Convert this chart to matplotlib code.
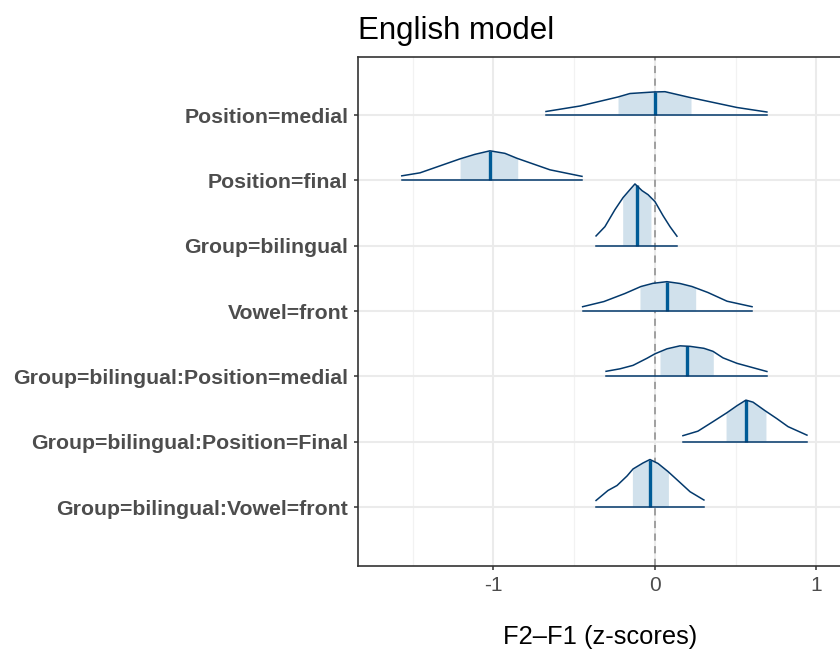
import numpy as np
import matplotlib.pyplot as plt

# parameter names, top to bottom
params = ['Position=medial', 'Position=final', 'Group=bilingual', 'Vowel=front',
          'Group=bilingual:Position=medial', 'Group=bilingual:Position=Final',
          'Group=bilingual:Vowel=front']

# density outlines: x (z-scores) and scaled height (row units)
dens_x = [
    [-0.675, -0.464, -0.229, -0.155, -0.012, 0.062, 0.111, 0.217, 0.508, 0.693],
    [-1.568, -1.455, -1.207, -1.115, -1.022, -0.929, -0.854, -0.650, -0.452],
    [-0.365, -0.310, -0.248, -0.198, -0.155, -0.124, -0.080, -0.043, 0.000, 0.050, 0.093, 0.136],
    [-0.448, -0.316, -0.186, -0.087, -0.012, 0.074, 0.155, 0.229, 0.328, 0.446, 0.601],
    [-0.303, -0.217, -0.136, -0.050, 0.000, 0.074, 0.155, 0.217, 0.303, 0.359, 0.421, 0.508, 0.588, 0.693],
    [0.173, 0.266, 0.359, 0.446, 0.508, 0.563, 0.607, 0.681, 0.755, 0.824, 0.941],
    [-0.365, -0.291, -0.235, -0.173, -0.136, -0.074, -0.031, 0.019, 0.080, 0.155, 0.217, 0.303],
]
dens_h = [
    [0.054, 0.138, 0.276, 0.329, 0.352, 0.357, 0.329, 0.268, 0.115, 0.046],
    [0.069, 0.115, 0.329, 0.398, 0.452, 0.413, 0.337, 0.161, 0.061],
    [0.149, 0.291, 0.551, 0.735, 0.858, 0.945, 0.842, 0.781, 0.674, 0.459, 0.291, 0.145],
    [0.066, 0.145, 0.268, 0.375, 0.424, 0.449, 0.421, 0.375, 0.283, 0.150, 0.066],
    [0.077, 0.115, 0.168, 0.276, 0.345, 0.421, 0.467, 0.459, 0.429, 0.383, 0.283, 0.199, 0.145, 0.074],
    [0.092, 0.161, 0.306, 0.444, 0.551, 0.636, 0.605, 0.475, 0.352, 0.230, 0.100],
    [0.100, 0.253, 0.329, 0.475, 0.582, 0.674, 0.727, 0.666, 0.544, 0.375, 0.234, 0.107],
]
# inner interval and median
inner_lo = [-0.229, -1.207, -0.200, -0.093, 0.031, 0.440, -0.140]
inner_hi = [0.223, -0.850, -0.025, 0.252, 0.361, 0.687, 0.083]
medians = [0.000, -1.022, -0.114, 0.076, 0.200, 0.561, -0.031]

line_col = '#03396c'
fill_col = '#d1e1ec'
med_col = '#005b96'

plt.rcParams['font.family'] = ['Liberation Sans', 'DejaVu Sans']

fig = plt.figure(figsize=(8.4, 6.57), dpi=100)
ax = fig.add_axes([358 / 840, 1 - 566 / 657, (842 - 358) / 840, (566 - 57) / 657])

n = len(params)
rows = np.arange(n, 0, -1)

for i in range(n):
    r = rows[i]
    x = np.array(dens_x[i])
    h = np.array(dens_h[i])
    # shaded inner interval
    xs = np.concatenate([[inner_lo[i]], x[(x > inner_lo[i]) & (x < inner_hi[i])], [inner_hi[i]]])
    ax.fill_between(xs, r, r + np.interp(xs, x, h), color=fill_col, lw=0, zorder=2)
    # median segment
    ax.plot([medians[i], medians[i]], [r, r + np.interp(medians[i], x, h)],
            color=med_col, lw=2.4, solid_capstyle='butt', zorder=3)
    # outline + baseline
    ax.plot(x, r + h, color=line_col, lw=1.1, solid_joinstyle='round', zorder=4)
    ax.plot([x[0], x[-1]], [r, r], color=line_col, lw=1.1, zorder=4)

ax.axvline(0, color='#9a9a9a', lw=1.3, ls=(0, (4, 3)), zorder=1.5)

ax.set_xlim(-1.839, 1.158)
ax.set_ylim(0.097, 7.888)
ax.set_xticks([-1, 0, 1])
ax.set_xticklabels(['-1', '0', '1'])
ax.set_xticks([-1.5, -0.5, 0.5], minor=True)
ax.set_yticks(rows)
ax.set_yticklabels(params, fontweight='bold', fontsize=15.3)

ax.grid(True, which='major', color='#ebebeb', lw=1.5, zorder=0)
ax.grid(True, which='minor', axis='x', color='#f2f2f2', lw=0.9, zorder=0)
ax.set_axisbelow(True)

ax.tick_params(axis='both', which='major', length=3, width=1.1, color='#333333',
               labelcolor='#4d4d4d', pad=4)
ax.tick_params(axis='x', labelsize=15)
ax.tick_params(axis='x', which='minor', length=0)
for s in ax.spines.values():
    s.set_color('#333333')
    s.set_linewidth(1.2)

ax.set_xlabel('F2\u2013F1 (z-scores)', fontsize=18.4, labelpad=22)
ax.set_title('English model', loc='left', fontsize=22.5, pad=13)

fig.savefig('out.png', dpi=100)
